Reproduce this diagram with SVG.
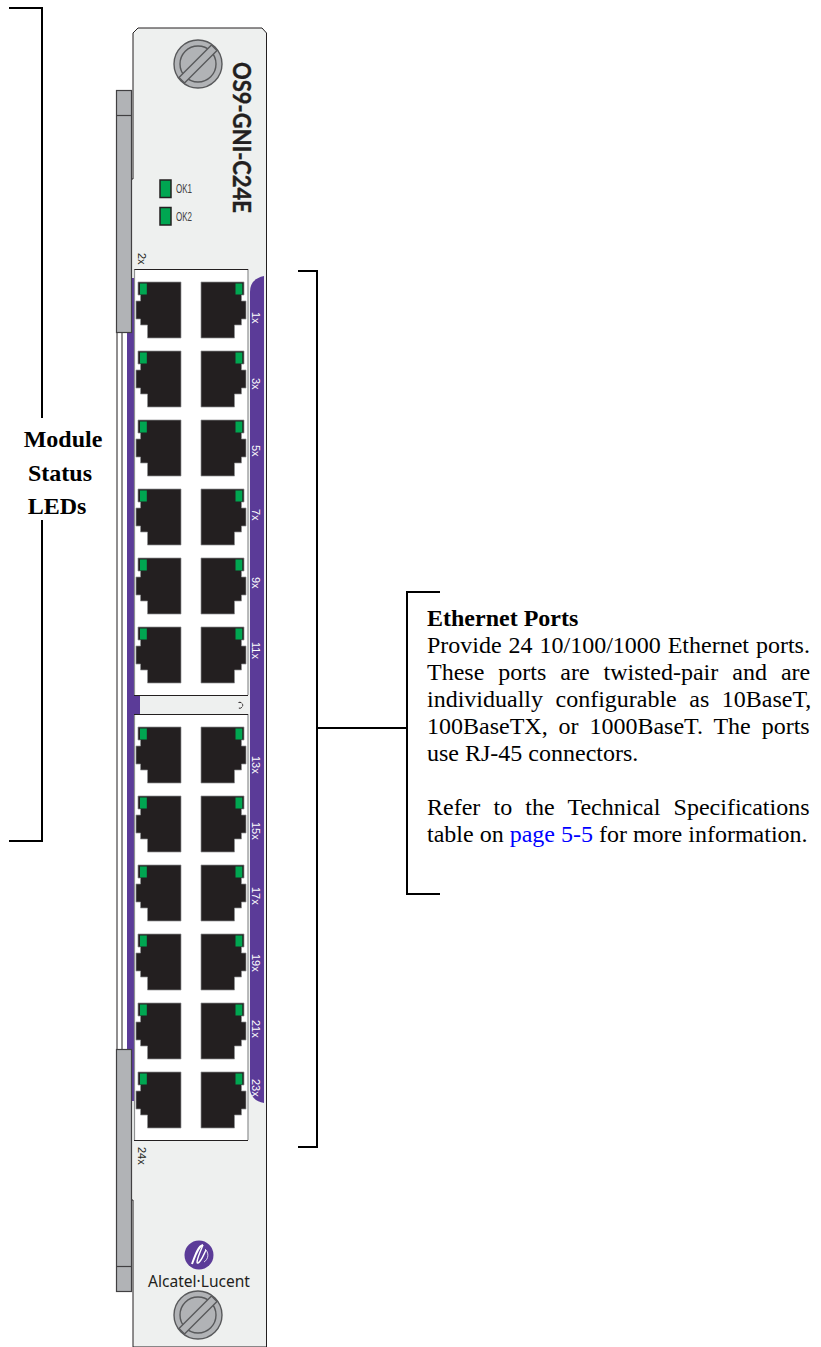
<svg xmlns="http://www.w3.org/2000/svg" xmlns:xlink="http://www.w3.org/1999/xlink" width="821" height="1347" viewBox="0 0 821 1347">
<style>
.br{fill:none;stroke:#000;stroke-width:2}
.t{font-family:"Liberation Serif","Times New Roman",serif;font-size:24px;fill:#000}
.b{font-weight:bold}
.s{font-family:"Liberation Sans",Arial,sans-serif;font-size:11px}
.ok{font-family:"Liberation Sans",Arial,sans-serif;font-size:12px;fill:#414042}
.w{fill:#fff}
.k{fill:#231f20}
.port{fill:#231f20;stroke:#8f9192;stroke-width:.7}
.led{fill:#00a651}
.bar{fill:#b1b3b6;stroke:#414042;stroke-width:1.2}
.scr{fill:#b1b3b6;stroke:#58595b;stroke-width:1.4}
</style>
<defs>
<g id="pl"><path class="port" d="M138 282H181V338H147.500V325H140.500V319H136V301H140.500V295H138Z"/><rect class="led" x="140" y="283.500" width="6.800" height="11"/></g>
<g id="pr"><path class="port" d="M244 282H201V338H234.500V325H241.500V319H246V301H241.500V295H244Z"/><rect class="led" x="235.500" y="283.500" width="6.800" height="11"/></g>
<g id="pp"><use xlink:href="#pl"/><use xlink:href="#pr"/></g>
<g id="screw"><circle class="scr" r="24"/><circle class="scr" r="18"/><path class="scr" d="M-19 13.500L13.500 -19L19 -13.500L-13.500 19Z"/></g>
</defs>
<g id="module">
<rect x="117" y="330" width="5" height="720" fill="#fff" stroke="#231f20" stroke-width="1"/>
<path d="M133 1347V1200H131V179H133V33L138 28H262L266.500 33V1347Z" fill="#eef0ef" stroke="#231f20" stroke-width="1"/>
<rect x="123" y="330" width="10" height="720" fill="#fff"/>
<rect x="127" y="278" width="7" height="823" fill="#5b3b98"/>
<rect x="127" y="696" width="13" height="18" fill="#5b3b98"/>
<path d="M264 276V1103Q252 1101 250 1090V292Q250 279 264 276Z" fill="#5b3b98"/>
</g>
<g id="top-bar"><rect class="bar" x="116.500" y="90.500" width="15" height="242"/><path d="M116 115.500H132" stroke="#414042" stroke-width="1.200"/></g>
<g id="bottom-bar"><rect class="bar" x="116.500" y="1049.500" width="15" height="242"/><path d="M116 1266.500H132" stroke="#414042" stroke-width="1.200"/></g>
<use id="screw-top" xlink:href="#screw" x="198" y="64"/>
<use id="screw-bottom" xlink:href="#screw" x="198" y="1315"/>
<text id="title" transform="translate(232.500 62) rotate(90)" font-family="Lato,'Liberation Sans',sans-serif" font-weight="bold" font-size="24" textLength="151" lengthAdjust="spacingAndGlyphs" fill="#231f20" stroke="#231f20" stroke-width=".4">OS9-GNI-C24E</text>
<g id="ok1"><rect x="160" y="180" width="11" height="17.500" fill="#00a651" stroke="#231f20" stroke-width="1.500"/><text class="ok" x="176" y="193" textLength="16" lengthAdjust="spacingAndGlyphs">OK1</text></g>
<g id="ok2"><rect x="160" y="207.500" width="11" height="17.500" fill="#00a651" stroke="#231f20" stroke-width="1.500"/><text class="ok" x="176" y="221" textLength="16" lengthAdjust="spacingAndGlyphs">OK2</text></g>
<g id="ports-top">
<rect x="134.500" y="269.500" width="113.500" height="425.500" fill="#fff"/>
<path d="M134.500 695V269.500H248V695" fill="none" stroke="#8f9192" stroke-width="1.200"/><path d="M134.500 269.500H248M134 695.500H248" stroke="#231f20" fill="none"/>
<use xlink:href="#pp"/><use xlink:href="#pp" y="69"/><use xlink:href="#pp" y="138"/><use xlink:href="#pp" y="207"/><use xlink:href="#pp" y="276"/><use xlink:href="#pp" y="345"/>
</g>
<g id="ports-bottom">
<rect x="134.500" y="714.500" width="113.500" height="425.500" fill="#fff"/>
<path d="M134.500 1140V714.500H248V1140" fill="none" stroke="#8f9192" stroke-width="1.200"/><path d="M134 714.500H248M134 1140.500H248" stroke="#231f20" fill="none"/>
<use xlink:href="#pp" y="445"/><use xlink:href="#pp" y="514"/><use xlink:href="#pp" y="583"/><use xlink:href="#pp" y="652"/><use xlink:href="#pp" y="721"/><use xlink:href="#pp" y="790"/>
</g>
<path id="mark" d="M238.500 702.500A3 3 0 1 1 238.500 708" fill="none" stroke="#231f20" stroke-width="1" stroke-dasharray="3 1"/>
<g id="port-labels" class="s w">
<text transform="translate(252 312) rotate(90)">1x</text>
<text transform="translate(252 378) rotate(90)">3x</text>
<text transform="translate(252 445) rotate(90)">5x</text>
<text transform="translate(252 509) rotate(90)">7x</text>
<text transform="translate(252 577) rotate(90)">9x</text>
<text transform="translate(252 642) rotate(90)">11x</text>
<text transform="translate(252 756) rotate(90)">13x</text>
<text transform="translate(252 822) rotate(90)">15x</text>
<text transform="translate(252 887) rotate(90)">17x</text>
<text transform="translate(252 954) rotate(90)">19x</text>
<text transform="translate(252 1020) rotate(90)">21x</text>
<text transform="translate(252 1079) rotate(90)">23x</text>
</g>
<text class="s k" transform="translate(138 253) rotate(90)">2x</text>
<text class="s k" transform="translate(138 1147) rotate(90)">24x</text>
<g id="logo"><circle cx="199" cy="1255" r="14.500" fill="#5b3b98"/><path d="M192 1264C195 1256 198 1246 203 1245" fill="none" stroke="#fff" stroke-width="2"/><path d="M203 1245C200 1252 195 1264 198 1263C201 1262 204 1254 206 1250" fill="none" stroke="#fff" stroke-width="1.400"/><path d="M205 1249A8 8 0 0 1 204 1262" fill="none" stroke="#fff" stroke-width=".8"/></g>
<text id="brand" x="148" y="1287" font-family="'Noto Sans','Liberation Sans',sans-serif" font-size="16.500" textLength="102" lengthAdjust="spacingAndGlyphs" fill="#231f20">Alcatel·Lucent</text>
<g id="connectors">
<path class="br" d="M9 8H42V418M42 520V841H9"/>
<path class="br" d="M298 271H317V1147H298"/>
<path class="br" d="M317 728H407"/>
<path class="br" d="M440 592H407V894H440"/>
</g>
<g id="status-label" class="t b" text-anchor="middle">
<text x="63" y="447">Module</text><text x="60" y="481">Status</text><text x="57" y="514">LEDs</text>
</g>
<g id="desc" class="t">
<text class="b" x="427" y="626">Ethernet Ports</text>
<text x="427" y="653" word-spacing="0.900">Provide 24 10/100/1000 Ethernet ports.</text>
<text x="427" y="680" word-spacing="8">These ports are twisted-pair and are</text>
<text x="427" y="707" word-spacing="6.500">individually configurable as 10BaseT,</text>
<text x="427" y="734" word-spacing="4.900">100BaseTX, or 1000BaseT. The ports</text>
<text x="427" y="761">use RJ-45 connectors.</text>
<text x="427" y="815" word-spacing="7.200">Refer to the Technical Specifications</text>
<text x="427" y="842">table on <tspan fill="#0000ff">page 5-5</tspan> for more information.</text>
</g>
</svg>
